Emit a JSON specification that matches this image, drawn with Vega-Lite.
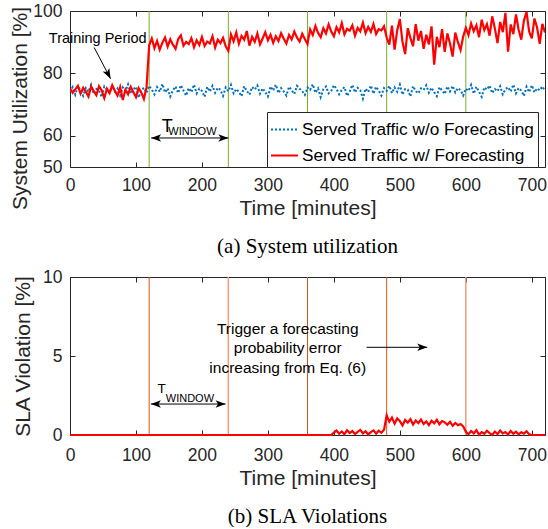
{
  "$schema": "https://vega.github.io/schema/vega-lite/v6.json",
  "background": "white",
  "padding": {"left": 8, "top": 1, "right": 0, "bottom": 0},
  "config": {
    "font": "Liberation Sans",
    "view": {"stroke": "#262626", "strokeWidth": 1},
    "axis": {"grid": false, "domain": false, "tickSize": -5, "tickColor": "#262626", "labelColor": "#262626", "labelFont": "Liberation Sans", "labelFontSize": 17.5, "titleFont": "Liberation Sans", "titleFontSize": 21, "titleFontWeight": "normal", "titleColor": "#262626", "labelPadding": 13},
    "axisX": {"labelAngle": 0, "titlePadding": 4, "labelFlush": false, "labelPadding": 14},
    "axisY": {"labelPadding": 13},
    "title": {"font": "Liberation Serif", "fontSize": 21, "fontWeight": "normal", "color": "black", "orient": "bottom", "offset": 17}
  },
  "datasets": {
    "util": [
      {"t":0,"b":74.0,"r":75.2},{"t":4,"b":75.6,"r":73.8},{"t":8,"b":73.2,"r":74.9},{"t":12,"b":75.9,"r":76.0},{"t":16,"b":74.6,"r":73.5},
      {"t":20,"b":72.8,"r":75.4},{"t":24,"b":75.3,"r":74.1},{"t":28,"b":74.1,"r":72.6},{"t":32,"b":76.3,"r":75.8},{"t":36,"b":73.4,"r":74.3},
      {"t":40,"b":75.0,"r":73.0},{"t":44,"b":74.5,"r":75.9},{"t":48,"b":72.4,"r":74.6},{"t":52,"b":75.8,"r":72.1},{"t":56,"b":74.8,"r":75.1},
      {"t":60,"b":73.7,"r":73.7},{"t":64,"b":76.1,"r":76.2},{"t":68,"b":74.2,"r":74.4},{"t":72,"b":75.2,"r":72.9},{"t":76,"b":72.9,"r":75.6},
      {"t":80,"b":75.5,"r":71.5},{"t":84,"b":74.3,"r":74.8},{"t":88,"b":76.5,"r":73.3},{"t":92,"b":73.5,"r":75.7},{"t":96,"b":74.9,"r":74.0},
      {"t":100,"b":75.7,"r":72.4},{"t":104,"b":72.2,"r":75.3},{"t":108,"b":74.6,"r":73.9},{"t":112,"b":75.4,"r":71.8},{"t":116,"b":73.8,"r":75.5},
      {"t":120,"b":76.0,"r":89.0},{"t":124,"b":74.8,"r":91.2},{"t":128,"b":73.3,"r":88.1},{"t":132,"b":75.6,"r":90.4},{"t":136,"b":74.1,"r":87.6},
      {"t":140,"b":76.6,"r":89.8},{"t":144,"b":73.9,"r":91.5},{"t":148,"b":75.2,"r":88.6},{"t":152,"b":72.6,"r":90.9},{"t":156,"b":74.6,"r":89.2},
      {"t":160,"b":75.8,"r":87.9},{"t":164,"b":73.7,"r":91.0},{"t":168,"b":76.2,"r":92.2},{"t":172,"b":74.5,"r":88.9},{"t":176,"b":72.9,"r":90.1},
      {"t":180,"b":75.3,"r":89.4},{"t":184,"b":74.0,"r":91.3},{"t":188,"b":76.4,"r":88.4},{"t":192,"b":73.6,"r":90.6},{"t":196,"b":75.1,"r":89.1},
      {"t":200,"b":74.4,"r":91.7},{"t":204,"b":72.5,"r":88.8},{"t":208,"b":75.7,"r":90.2},{"t":212,"b":74.2,"r":89.6},{"t":216,"b":76.0,"r":91.9},
      {"t":220,"b":73.8,"r":88.3},{"t":224,"b":75.4,"r":90.8},{"t":228,"b":74.7,"r":89.7},{"t":232,"b":72.8,"r":91.4},{"t":236,"b":75.5,"r":88.7},
      {"t":240,"b":74.3,"r":87.2},{"t":244,"b":76.3,"r":92.5},{"t":248,"b":73.6,"r":90.3},{"t":252,"b":75.0,"r":93.1},{"t":256,"b":74.1,"r":89.5},
      {"t":260,"b":72.7,"r":92.0},{"t":264,"b":75.9,"r":90.8},{"t":268,"b":74.4,"r":93.6},{"t":272,"b":73.2,"r":88.9},{"t":276,"b":75.6,"r":91.7},
      {"t":280,"b":74.8,"r":90.1},{"t":284,"b":76.1,"r":92.8},{"t":288,"b":73.5,"r":89.3},{"t":292,"b":75.2,"r":91.2},{"t":296,"b":74.0,"r":93.2},
      {"t":300,"b":72.6,"r":90.6},{"t":304,"b":75.8,"r":92.4},{"t":308,"b":74.5,"r":89.8},{"t":312,"b":76.4,"r":91.9},{"t":316,"b":73.7,"r":90.4},
      {"t":320,"b":75.3,"r":92.9},{"t":324,"b":74.2,"r":91.1},{"t":328,"b":72.9,"r":89.6},{"t":332,"b":75.7,"r":92.3},{"t":336,"b":74.6,"r":90.9},
      {"t":340,"b":73.4,"r":93.4},{"t":344,"b":76.0,"r":91.5},{"t":348,"b":75.1,"r":90.2},{"t":352,"b":74.3,"r":92.7},{"t":356,"b":73.1,"r":91.0},
      {"t":360,"b":75.5,"r":89.4},{"t":364,"b":74.7,"r":94.1},{"t":368,"b":76.5,"r":92.3},{"t":372,"b":73.8,"r":95.2},{"t":376,"b":75.2,"r":93.0},
      {"t":380,"b":72.4,"r":91.6},{"t":384,"b":74.9,"r":94.5},{"t":388,"b":75.8,"r":92.8},{"t":392,"b":73.6,"r":95.7},{"t":396,"b":74.4,"r":93.4},
      {"t":400,"b":76.2,"r":91.9},{"t":404,"b":75.0,"r":94.8},{"t":408,"b":73.3,"r":93.2},{"t":412,"b":74.7,"r":96.1},{"t":416,"b":75.6,"r":92.5},
      {"t":420,"b":72.8,"r":94.3},{"t":424,"b":74.2,"r":93.7},{"t":428,"b":76.3,"r":95.4},{"t":432,"b":73.9,"r":92.1},{"t":436,"b":75.4,"r":94.6},
      {"t":440,"b":74.6,"r":93.5},{"t":444,"b":71.9,"r":96.3},{"t":448,"b":75.1,"r":92.9},{"t":452,"b":74.0,"r":94.9},{"t":456,"b":76.1,"r":93.3},
      {"t":460,"b":73.5,"r":95.8},{"t":464,"b":75.7,"r":92.6},{"t":468,"b":74.5,"r":94.2},{"t":472,"b":72.9,"r":93.8},{"t":476,"b":75.3,"r":95.1},
      {"t":480,"b":74.4,"r":91.5},{"t":484,"b":76.0,"r":89.2},{"t":488,"b":73.7,"r":95.3},{"t":492,"b":75.5,"r":87.6},{"t":496,"b":74.1,"r":93.8},
      {"t":500,"b":76.4,"r":97.4},{"t":504,"b":73.2,"r":90.1},{"t":508,"b":75.0,"r":86.2},{"t":512,"b":74.8,"r":94.5},{"t":516,"b":72.6,"r":91.3},
      {"t":520,"b":75.9,"r":88.7},{"t":524,"b":74.3,"r":95.8},{"t":528,"b":73.6,"r":90.5},{"t":532,"b":75.2,"r":93.6},{"t":536,"b":74.7,"r":87.9},
      {"t":540,"b":76.2,"r":92.4},{"t":544,"b":73.8,"r":89.3},{"t":548,"b":75.4,"r":95.1},{"t":552,"b":74.0,"r":82.8},{"t":556,"b":72.7,"r":91.7},
      {"t":560,"b":75.6,"r":88.4},{"t":564,"b":74.5,"r":94.2},{"t":568,"b":73.4,"r":86.9},{"t":572,"b":75.8,"r":92.8},{"t":576,"b":74.2,"r":89.6},
      {"t":580,"b":76.0,"r":85.4},{"t":584,"b":73.9,"r":93.1},{"t":588,"b":75.3,"r":90.0},{"t":592,"b":74.6,"r":87.5},{"t":596,"b":72.9,"r":91.8},
      {"t":600,"b":75.1,"r":94.6},{"t":604,"b":74.4,"r":92.3},{"t":608,"b":76.3,"r":96.0},{"t":612,"b":73.5,"r":93.5},{"t":616,"b":75.7,"r":95.4},
      {"t":620,"b":74.1,"r":91.6},{"t":624,"b":72.5,"r":97.2},{"t":628,"b":75.5,"r":93.9},{"t":632,"b":74.8,"r":95.8},{"t":636,"b":76.1,"r":92.1},
      {"t":640,"b":73.7,"r":98.3},{"t":644,"b":75.0,"r":94.4},{"t":648,"b":74.3,"r":89.7},{"t":652,"b":75.9,"r":96.5},{"t":656,"b":73.3,"r":93.2},
      {"t":660,"b":74.9,"r":99.4},{"t":664,"b":75.6,"r":87.0},{"t":668,"b":74.2,"r":95.7},{"t":672,"b":76.4,"r":92.6},{"t":676,"b":73.6,"r":98.9},
      {"t":680,"b":75.3,"r":94.0},{"t":684,"b":74.5,"r":90.8},{"t":688,"b":72.8,"r":96.9},{"t":692,"b":75.7,"r":99.7},{"t":696,"b":74.0,"r":93.4},
      {"t":700,"b":76.2,"r":91.2},{"t":704,"b":73.9,"r":97.6},{"t":708,"b":75.2,"r":94.7},{"t":712,"b":74.6,"r":89.5},{"t":716,"b":75.8,"r":95.9},
      {"t":720,"b":74.4,"r":93.1}
    ],
    "sla": [
      {"t":0,"v":0},{"t":100,"v":0},{"t":200,"v":0},{"t":300,"v":0},{"t":396,"v":0},
      {"t":400,"v":0.15},{"t":404,"v":0.28},{"t":408,"v":0.08},{"t":412,"v":0.22},{"t":416,"v":0.05},{"t":420,"v":0.3},{"t":424,"v":0.12},{"t":428,"v":0.25},{"t":432,"v":0.06},{"t":436,"v":0.2},
      {"t":440,"v":0.32},{"t":444,"v":0.1},{"t":448,"v":0.24},{"t":452,"v":0.04},{"t":456,"v":0.18},{"t":460,"v":0.29},{"t":464,"v":0.09},{"t":468,"v":0.27},{"t":472,"v":0.14},{"t":476,"v":0.33},
      {"t":480,"v":1.25},{"t":484,"v":0.85},{"t":488,"v":1.1},{"t":492,"v":0.72},{"t":496,"v":1.05},{"t":500,"v":0.88},{"t":504,"v":0.6},{"t":508,"v":0.95},{"t":512,"v":0.78},{"t":516,"v":1.0},
      {"t":520,"v":0.66},{"t":524,"v":0.92},{"t":528,"v":0.75},{"t":532,"v":0.98},{"t":536,"v":0.7},{"t":540,"v":0.86},{"t":544,"v":0.62},{"t":548,"v":0.9},{"t":552,"v":0.74},{"t":556,"v":0.96},
      {"t":560,"v":0.68},{"t":564,"v":0.88},{"t":568,"v":0.8},{"t":572,"v":0.65},{"t":576,"v":0.84},{"t":580,"v":0.58},{"t":584,"v":0.76},{"t":588,"v":0.62},{"t":592,"v":0.7},{"t":596,"v":0.55},
      {"t":600,"v":0.2},{"t":604,"v":0.05},{"t":608,"v":0.25},{"t":612,"v":0.1},{"t":616,"v":0.3},{"t":620,"v":0.02},{"t":624,"v":0.18},{"t":628,"v":0.08},{"t":632,"v":0.27},{"t":636,"v":0.12},
      {"t":640,"v":0.0},{"t":644,"v":0.22},{"t":648,"v":0.06},{"t":652,"v":0.28},{"t":656,"v":0.1},{"t":660,"v":0.19},{"t":664,"v":0.03},{"t":668,"v":0.26},{"t":672,"v":0.08},{"t":676,"v":0.21},
      {"t":680,"v":0.04},{"t":684,"v":0.17},{"t":688,"v":0.09},{"t":692,"v":0.24},{"t":696,"v":0.05},{"t":700,"v":0},{"t":720,"v":0}
    ]
  },
  "concat": [
    {
      "width": 475,
      "height": 156,
      "title": {"text": "(a) System utilization"},
      "resolve": {"axis": {"x": "independent", "y": "independent"}},
      "layer": [
        {
          "data": {"values": [{"t":120},{"t":240},{"t":360},{"t":480},{"t":600}]},
          "mark": {"type": "rule", "color": "#77AC30", "strokeWidth": 1},
          "encoding": {"x": {"field": "t", "type": "quantitative", "scale": {"domain": [0,720], "nice": false}, "axis": null}}
        },
        {
          "data": {"name": "util"},
          "transform": [{"fold": ["b"], "as": ["s", "v"]}],
          "mark": {"type": "line", "strokeWidth": 2, "clip": true},
          "encoding": {
            "x": {"field": "t", "type": "quantitative", "scale": {"domain": [0,720], "nice": false}, "axis": {"values": [0,100,200,300,400,500,600,700], "title": "Time [minutes]"}},
            "y": {"field": "v", "type": "quantitative", "scale": {"domain": [50,100], "nice": false, "zero": false}, "axis": {"values": [50,60,80,100], "title": "System Utilization [%]", "titleX": -40, "titleY": 97}},
            "color": {"field": "s", "type": "nominal", "scale": {"domain": ["b","r"], "range": ["#0072BD","#FF0000"]},
              "legend": {"orient": "none", "legendX": 197, "legendY": 101, "title": null, "symbolType": "stroke", "symbolSize": 729, "symbolStrokeWidth": 2, "labelFontSize": 17.2, "labelFont": "Liberation Sans", "labelColor": "#000000", "strokeColor": "#262626", "fillColor": "white", "padding": 3, "rowPadding": 3, "labelOffset": 3, "labelLimit": 400,
                "labelExpr": "datum.label == 'b' ? 'Served Traffic w/o Forecasting' : 'Served Traffic w/ Forecasting'"}},
            "strokeDash": {"field": "s", "type": "nominal", "scale": {"domain": ["b","r"], "range": [[2,2],[1,0]]},
              "legend": {"orient": "none", "legendX": 197, "legendY": 101, "title": null, "symbolType": "stroke", "symbolSize": 729, "symbolStrokeWidth": 2, "labelFontSize": 17.2, "labelFont": "Liberation Sans", "labelColor": "#000000", "strokeColor": "#262626", "fillColor": "white", "padding": 3, "rowPadding": 3, "labelOffset": 3, "labelLimit": 400,
                "labelExpr": "datum.label == 'b' ? 'Served Traffic w/o Forecasting' : 'Served Traffic w/ Forecasting'"}}
          }
        },
        {
          "data": {"name": "util"},
          "transform": [{"fold": ["r"], "as": ["s", "v"]}],
          "mark": {"type": "line", "strokeWidth": 2.2, "clip": true},
          "encoding": {
            "x": {"field": "t", "type": "quantitative", "scale": {"domain": [0,720], "nice": false}, "axis": {"orient": "top", "values": [0,100,200,300,400,500,600,700], "labels": false, "title": null}},
            "y": {"field": "v", "type": "quantitative", "scale": {"domain": [50,100], "nice": false, "zero": false}, "axis": {"orient": "right", "values": [50,60,80,100], "labels": false, "title": null}},
            "color": {"field": "s", "type": "nominal", "scale": {"domain": ["b","r"], "range": ["#0072BD","#FF0000"]}},
            "strokeDash": {"field": "s", "type": "nominal", "scale": {"domain": ["b","r"], "range": [[2,2],[1,0]]}}
          }
        },
        {
          "data": {"values": [{"x": 36.6, "y": 88.3, "x2": 61.5, "y2": 78.3}, {"x": 123, "y": 59.3, "x2": 240, "y2": 59.3}]},
          "mark": {"type": "rule", "color": "black", "strokeWidth": 1},
          "encoding": {
            "x": {"field": "x", "type": "quantitative", "scale": {"domain": [0,720], "nice": false}, "axis": null},
            "y": {"field": "y", "type": "quantitative", "scale": {"domain": [50,100], "nice": false, "zero": false}, "axis": null},
            "x2": {"field": "x2"},
            "y2": {"field": "y2"}
          }
        },
        {
          "data": {"values": [{"x": 240, "y": 59.3}]},
          "mark": {"type": "point", "shape": "M0,0L-2,-0.75L-1.5,0L-2,0.75Z", "filled": true, "color": "black", "opacity": 1, "size": 100, "angle": 0},
          "encoding": {
            "x": {"field": "x", "type": "quantitative", "scale": {"domain": [0,720], "nice": false}, "axis": null},
            "y": {"field": "y", "type": "quantitative", "scale": {"domain": [50,100], "nice": false, "zero": false}, "axis": null}
          }
        },
        {
          "data": {"values": [{"x": 123, "y": 59.3}]},
          "mark": {"type": "point", "shape": "M0,0L-2,-0.75L-1.5,0L-2,0.75Z", "filled": true, "color": "black", "opacity": 1, "size": 100, "angle": 180},
          "encoding": {
            "x": {"field": "x", "type": "quantitative", "scale": {"domain": [0,720], "nice": false}, "axis": null},
            "y": {"field": "y", "type": "quantitative", "scale": {"domain": [50,100], "nice": false, "zero": false}, "axis": null}
          }
        },
        {
          "data": {"values": [{"x": 61.5, "y": 78.3}]},
          "mark": {"type": "point", "shape": "M0,0L-2,-0.75L-1.5,0L-2,0.75Z", "filled": true, "color": "black", "opacity": 1, "size": 100, "angle": 62.6},
          "encoding": {
            "x": {"field": "x", "type": "quantitative", "scale": {"domain": [0,720], "nice": false}, "axis": null},
            "y": {"field": "y", "type": "quantitative", "scale": {"domain": [50,100], "nice": false, "zero": false}, "axis": null}
          }
        },
        {
          "data": {"values": [{"x": 42, "y": 91.1, "label": "Training Period"}]},
          "mark": {"type": "text", "fontSize": 14.5, "font": "Liberation Sans", "color": "black", "align": "center", "baseline": "middle"},
          "encoding": {
            "x": {"field": "x", "type": "quantitative", "scale": {"domain": [0,720], "nice": false}, "axis": null},
            "y": {"field": "y", "type": "quantitative", "scale": {"domain": [50,100], "nice": false, "zero": false}, "axis": null},
            "text": {"field": "label"}
          }
        },
        {
          "data": {"values": [{"x": 139, "y": 61.3, "label": "T"}]},
          "mark": {"type": "text", "fontSize": 18, "font": "Liberation Sans", "color": "black", "align": "left", "baseline": "alphabetic"},
          "encoding": {
            "x": {"field": "x", "type": "quantitative", "scale": {"domain": [0,720], "nice": false}, "axis": null},
            "y": {"field": "y", "type": "quantitative", "scale": {"domain": [50,100], "nice": false, "zero": false}, "axis": null},
            "text": {"field": "label"}
          }
        },
        {
          "data": {"values": [{"x": 149, "y": 60.1, "label": "WINDOW"}]},
          "mark": {"type": "text", "fontSize": 11, "font": "Liberation Sans", "color": "black", "align": "left", "baseline": "alphabetic"},
          "encoding": {
            "x": {"field": "x", "type": "quantitative", "scale": {"domain": [0,720], "nice": false}, "axis": null},
            "y": {"field": "y", "type": "quantitative", "scale": {"domain": [50,100], "nice": false, "zero": false}, "axis": null},
            "text": {"field": "label"}
          }
        }
      ]
    },
    {
      "width": 475,
      "height": 158,
      "title": {"text": "(b) SLA Violations"},
      "resolve": {"axis": {"x": "independent", "y": "independent"}},
      "layer": [
        {
          "data": {"values": [{"t":120},{"t":360},{"t":480}]},
          "mark": {"type": "rule", "color": "#D95319", "strokeWidth": 1},
          "encoding": {"x": {"field": "t", "type": "quantitative", "scale": {"domain": [0,720], "nice": false}, "axis": null}}
        },
        {
          "data": {"values": [{"t":240},{"t":600}]},
          "mark": {"type": "rule", "color": "#EC9C7A", "strokeWidth": 1.5},
          "encoding": {"x": {"field": "t", "type": "quantitative", "scale": {"domain": [0,720], "nice": false}, "axis": null}}
        },
        {
          "data": {"name": "sla"},
          "mark": {"type": "line", "color": "#FF0000", "strokeWidth": 2.2},
          "encoding": {
            "x": {"field": "t", "type": "quantitative", "scale": {"domain": [0,720], "nice": false}, "axis": {"values": [0,100,200,300,400,500,600,700], "title": "Time [minutes]", "labelPadding": 16}},
            "y": {"field": "v", "type": "quantitative", "scale": {"domain": [0,10], "nice": false}, "axis": {"values": [0,5,10], "title": "SLA Violation [%]", "titleX": -37}}
          }
        },
        {
          "data": {"values": [{"x": 122.6, "y": 1.96, "x2": 235.8, "y2": 1.96}, {"x": 449.5, "y": 5.55, "x2": 541.5, "y2": 5.55}]},
          "mark": {"type": "rule", "color": "black", "strokeWidth": 1},
          "encoding": {
            "x": {"field": "x", "type": "quantitative", "scale": {"domain": [0,720], "nice": false}, "axis": {"orient": "top", "values": [0,100,200,300,400,500,600,700], "labels": false, "title": null}},
            "y": {"field": "y", "type": "quantitative", "scale": {"domain": [0,10], "nice": false}, "axis": {"orient": "right", "values": [0,5,10], "labels": false, "title": null}},
            "x2": {"field": "x2"},
            "y2": {"field": "y2"}
          }
        },
        {
          "data": {"values": [{"x": 235.8, "y": 1.96}, {"x": 541.5, "y": 5.55}]},
          "mark": {"type": "point", "shape": "M0,0L-2,-0.75L-1.5,0L-2,0.75Z", "filled": true, "color": "black", "opacity": 1, "size": 100, "angle": 0},
          "encoding": {
            "x": {"field": "x", "type": "quantitative", "scale": {"domain": [0,720], "nice": false}, "axis": null},
            "y": {"field": "y", "type": "quantitative", "scale": {"domain": [0,10], "nice": false}, "axis": null}
          }
        },
        {
          "data": {"values": [{"x": 122.6, "y": 1.96}]},
          "mark": {"type": "point", "shape": "M0,0L-2,-0.75L-1.5,0L-2,0.75Z", "filled": true, "color": "black", "opacity": 1, "size": 100, "angle": 180},
          "encoding": {
            "x": {"field": "x", "type": "quantitative", "scale": {"domain": [0,720], "nice": false}, "axis": null},
            "y": {"field": "y", "type": "quantitative", "scale": {"domain": [0,10], "nice": false}, "axis": null}
          }
        },
        {
          "data": {"values": [
            {"x": 330, "y": 6.71, "label": "Trigger a forecasting"},
            {"x": 330, "y": 5.51, "label": "probability error"},
            {"x": 330, "y": 4.24, "label": "increasing from Eq. (6)"}
          ]},
          "mark": {"type": "text", "fontSize": 15.5, "font": "Liberation Sans", "color": "black", "align": "center", "baseline": "middle"},
          "encoding": {
            "x": {"field": "x", "type": "quantitative", "scale": {"domain": [0,720], "nice": false}, "axis": null},
            "y": {"field": "y", "type": "quantitative", "scale": {"domain": [0,10], "nice": false}, "axis": null},
            "text": {"field": "label"}
          }
        },
        {
          "data": {"values": [{"x": 132.7, "y": 2.64, "label": "T"}]},
          "mark": {"type": "text", "fontSize": 13.5, "font": "Liberation Sans", "color": "black", "align": "left", "baseline": "alphabetic"},
          "encoding": {
            "x": {"field": "x", "type": "quantitative", "scale": {"domain": [0,720], "nice": false}, "axis": null},
            "y": {"field": "y", "type": "quantitative", "scale": {"domain": [0,10], "nice": false}, "axis": null},
            "text": {"field": "label"}
          }
        },
        {
          "data": {"values": [{"x": 145.2, "y": 2.11, "label": "WINDOW"}]},
          "mark": {"type": "text", "fontSize": 11, "font": "Liberation Sans", "color": "black", "align": "left", "baseline": "alphabetic"},
          "encoding": {
            "x": {"field": "x", "type": "quantitative", "scale": {"domain": [0,720], "nice": false}, "axis": null},
            "y": {"field": "y", "type": "quantitative", "scale": {"domain": [0,10], "nice": false}, "axis": null},
            "text": {"field": "label"}
          }
        }
      ]
    }
  ],
  "columns": 1,
  "spacing": 10
}
